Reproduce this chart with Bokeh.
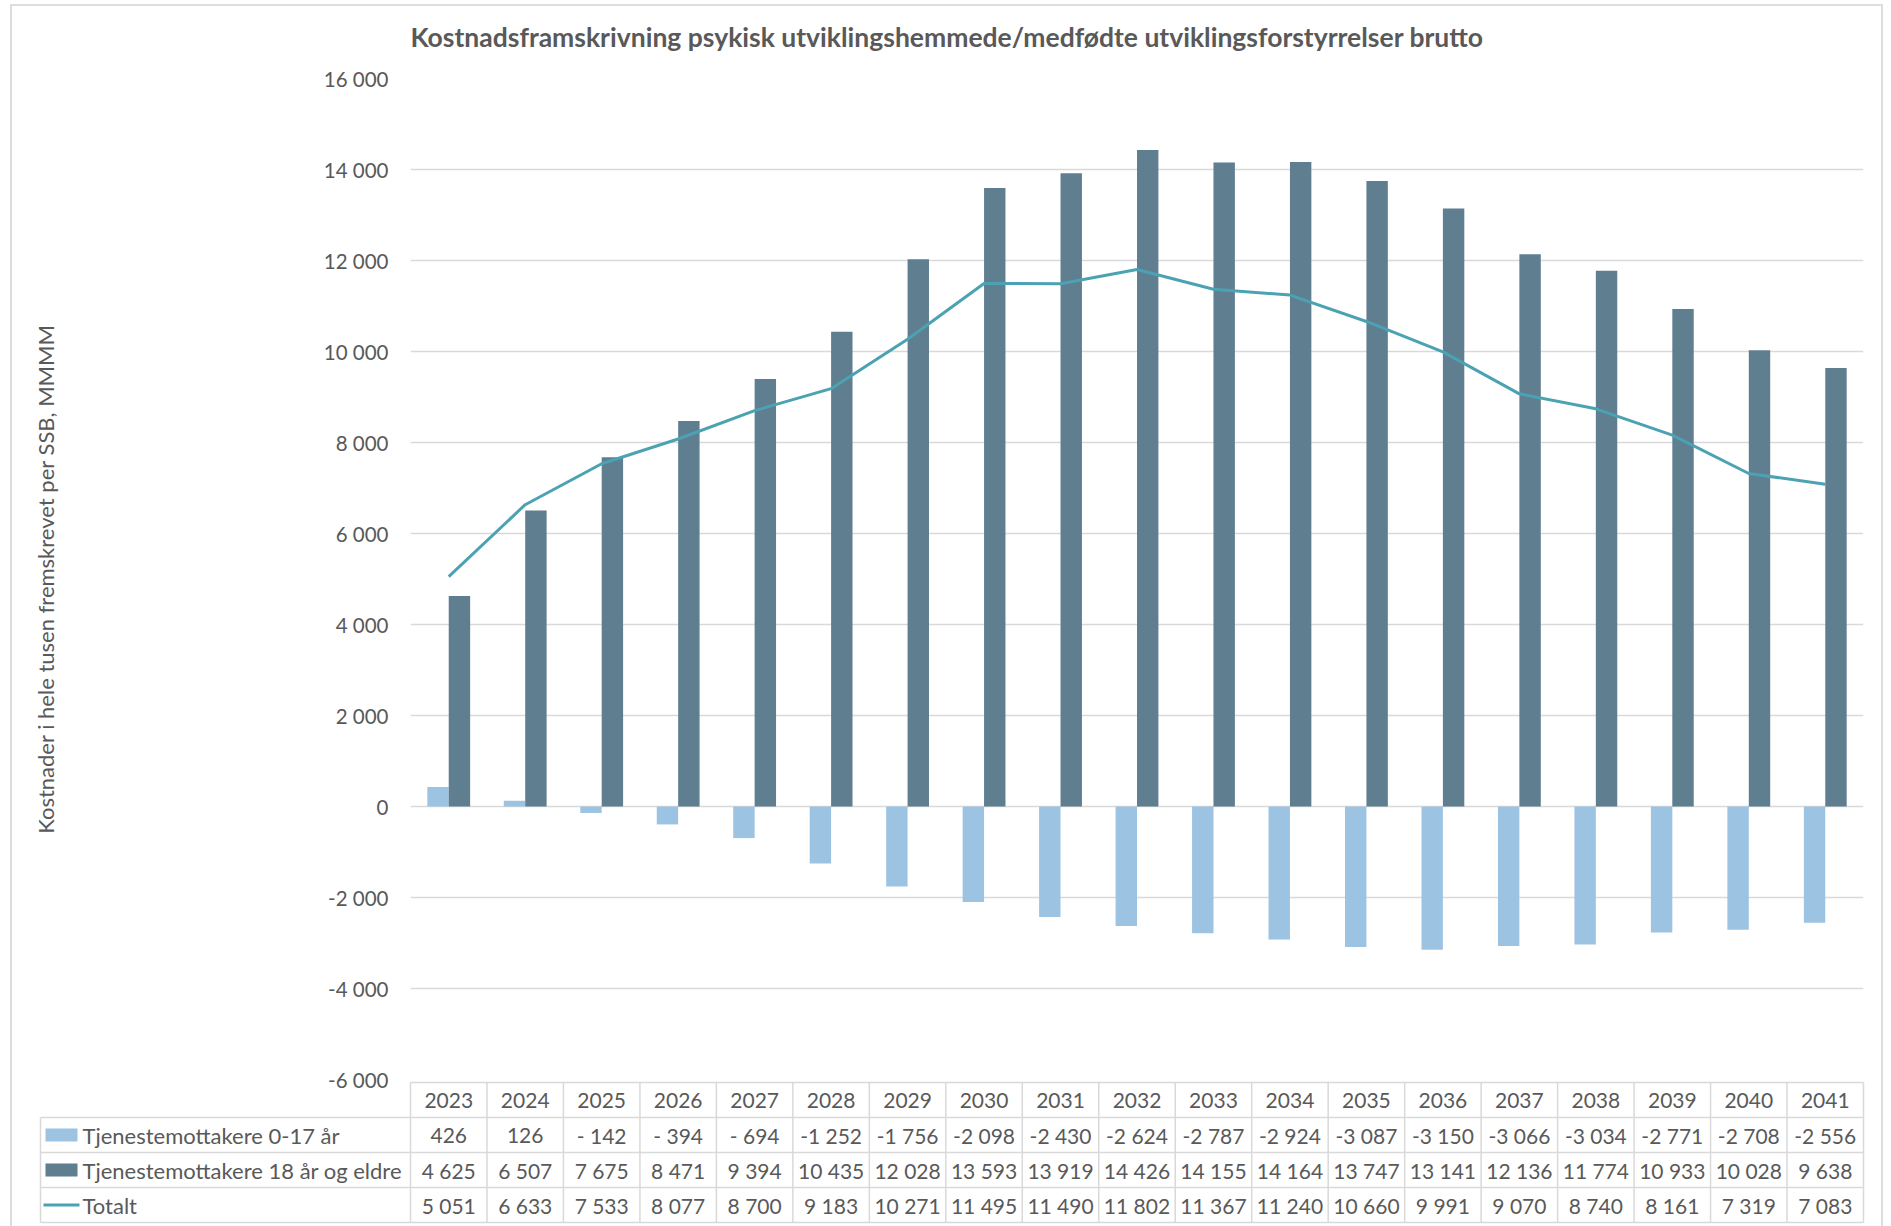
from bokeh.plotting import figure
from bokeh.models import Range1d, FixedTicker, ColumnDataSource
from bokeh.layouts import column
from bokeh.transform import dodge
from bokeh.core.properties import value
from bokeh.embed import file_html
from bokeh.resources import INLINE

# ---- data -----------------------------------------------------------------
TITLE = "Kostnadsframskrivning psykisk utviklingshemmede/medfødte utviklingsforstyrrelser brutto"
Y_LABEL = "Kostnader i hele tusen fremskrevet per SSB, MMMM"

YEARS = [2023, 2024, 2025, 2026, 2027, 2028, 2029, 2030, 2031, 2032,
         2033, 2034, 2035, 2036, 2037, 2038, 2039, 2040, 2041]
SERIES_NAMES = ["Tjenestemottakere 0-17 år",
                "Tjenestemottakere 18 år og eldre",
                "Totalt"]
CHILDREN = [426, 126, -142, -394, -694, -1252, -1756, -2098, -2430, -2624,
            -2787, -2924, -3087, -3150, -3066, -3034, -2771, -2708, -2556]
ADULTS = [4625, 6507, 7675, 8471, 9394, 10435, 12028, 13593, 13919, 14426,
          14155, 14164, 13747, 13141, 12136, 11774, 10933, 10028, 9638]
TOTAL = [5051, 6633, 7533, 8077, 8700, 9183, 10271, 11495, 11490, 11802,
         11367, 11240, 10660, 9991, 9070, 8740, 8161, 7319, 7083]

Y_TICKS = [-6000, -4000, -2000, 0, 2000, 4000, 6000, 8000, 10000, 12000, 14000, 16000]
Y_TICK_LABELS = ["-6 000", "-4 000", "-2 000", "0", "2 000", "4 000", "6 000",
                 "8 000", "10 000", "12 000", "14 000", "16 000"]

# ---- style ----------------------------------------------------------------
FONT = "Lato"
TEXT = "#595959"
GRID = "#d9d9d9"
LIGHT = "#9dc3e2"
DARK = "#5f7e90"
TEAL = "#4ba2b3"

W = 1869                  # inner width of the chart area
HEAD_H = 52               # strip holding the chart title
FRAME_LEFT = 398          # left edge of the plotting frame inside each figure
FRAME_RIGHT_PAD = 18
FRAME_TOP_PAD = 20
FRAME_H = 1001
BOTTOM_PAD = 15           # room for the lowest tick label, overlapped by the table
N = len(YEARS)
COL_PX = (W - FRAME_LEFT - FRAME_RIGHT_PAD) / N
X_START = YEARS[0] - 0.5
X_END = YEARS[-1] + 0.5
BAR_W = 0.28


def fmt(n):
    """Space-grouped number, Excel style ('- 142' for small negatives)."""
    s = f"{abs(n):,}".replace(",", " ")
    if n < 0:
        return ("- " if abs(n) < 1000 else "-") + s
    return s


def bare(fig):
    fig.outline_line_color = None
    fig.xgrid.visible = False
    fig.ygrid.visible = False
    return fig


src = ColumnDataSource(dict(year=YEARS, children=CHILDREN, adults=ADULTS, total=TOTAL))

# ---- title strip -------------------------------------------------------------
head = bare(figure(width=W, height=HEAD_H, title=None,
                   x_range=Range1d(0, W), y_range=Range1d(HEAD_H, 0),
                   output_backend="svg", toolbar_location=None,
                   x_axis_location=None, y_axis_location=None,
                   min_border_left=0, min_border_right=0,
                   min_border_top=0, min_border_bottom=0, frame_align=False))
head.text(x=[W / 2], y=[30], text=[TITLE], text_font=value(FONT),
          text_font_size="26.5px", text_font_style="bold", text_color=TEXT,
          text_align="center", text_baseline="middle")

# ---- chart ----------------------------------------------------------------
p = figure(width=W, height=FRAME_TOP_PAD + FRAME_H + BOTTOM_PAD, title=None,
           x_range=Range1d(X_START, X_END), y_range=Range1d(Y_TICKS[0], Y_TICKS[-1]),
           output_backend="svg", toolbar_location=None, x_axis_location=None,
           min_border_left=FRAME_LEFT, min_border_right=FRAME_RIGHT_PAD,
           min_border_top=FRAME_TOP_PAD, min_border_bottom=BOTTOM_PAD, frame_align=False)
p.outline_line_color = None
p.background_fill_color = "white"
p.border_fill_color = "white"

p.xgrid.visible = False
p.ygrid.ticker = FixedTicker(ticks=Y_TICKS)
p.ygrid.grid_line_color = GRID
p.ygrid.grid_line_width = 1.5

ax = p.yaxis[0]
ax.ticker = FixedTicker(ticks=Y_TICKS)
ax.major_label_overrides = dict(zip(Y_TICKS, Y_TICK_LABELS))
ax.axis_line_color = None
ax.major_tick_line_color = None
ax.minor_tick_line_color = None
ax.major_tick_out = 0
ax.major_label_standoff = 22
ax.major_label_text_font = FONT
ax.major_label_text_font_size = "20.5px"
ax.major_label_text_color = TEXT
ax.axis_label = Y_LABEL
ax.axis_label_text_font = FONT
ax.axis_label_text_font_size = "22px"
ax.axis_label_text_font_style = "normal"
ax.axis_label_text_color = TEXT
ax.axis_label_standoff = 262

p.vbar(x=dodge("year", -BAR_W / 2, range=p.x_range), top="children", width=BAR_W,
       source=src, fill_color=LIGHT, line_color=None)
p.vbar(x=dodge("year", BAR_W / 2, range=p.x_range), top="adults", width=BAR_W,
       source=src, fill_color=DARK, line_color=None)
p.line("year", "total", source=src, line_color=TEAL, line_width=3)

# ---- data table under the chart ---------------------------------------------
ROW_H = 35
TABLE_H = 146
TOP_PAD = 2 / ROW_H
LEGEND_COL_PX = 370
TABLE_LEFT = X_START - LEGEND_COL_PX / COL_PX

t = bare(figure(width=W, height=TABLE_H, title=None,
                x_range=Range1d(X_START - FRAME_LEFT / COL_PX, X_START + (W - FRAME_LEFT) / COL_PX),
                y_range=Range1d(TABLE_H / ROW_H - TOP_PAD, -TOP_PAD),
                output_backend="svg", toolbar_location=None,
                x_axis_location=None, y_axis_location=None,
                min_border_left=0, min_border_right=0, min_border_top=0, min_border_bottom=0,
                frame_align=False, styles={"margin-top": f"-{BOTTOM_PAD - 1}px"}))
t.background_fill_color = None
t.border_fill_color = None

# cell borders
hx0 = [X_START] + [TABLE_LEFT] * 4
hx1 = [X_END] * 5
hy = [0, 1, 2, 3, 4]
t.segment(x0=hx0, y0=hy, x1=hx1, y1=hy, line_color=GRID, line_width=1.5)
vx = [X_START + i for i in range(N + 1)] + [TABLE_LEFT]
vy0 = [0] * (N + 1) + [1]
vy1 = [4] * (N + 2)
t.segment(x0=vx, y0=vy0, x1=vx, y1=vy1, line_color=GRID, line_width=1.5)

# year header and values
rows = [[str(y) for y in YEARS],
        [fmt(v) for v in CHILDREN],
        [fmt(v) for v in ADULTS],
        [fmt(v) for v in TOTAL]]
cell_x, cell_y, cell_txt = [], [], []
for r, labels in enumerate(rows):
    for y, s in zip(YEARS, labels):
        cell_x.append(y)
        cell_y.append(r + 0.5)
        cell_txt.append(s)
t.text(x=cell_x, y=cell_y, text=cell_txt, text_font=value(FONT), text_font_size="21px",
       text_color=TEXT, text_align="center", text_baseline="middle")

# series names with their key swatches
t.text(x=[TABLE_LEFT] * 3, y=[1.5, 2.5, 3.5], text=SERIES_NAMES, x_offset=42,
       text_font=value(FONT), text_font_size="22px", text_color=TEXT,
       text_align="left", text_baseline="middle")
sw_x = TABLE_LEFT + 21 / COL_PX
t.rect(x=[sw_x, sw_x], y=[1.5, 2.5], width=32, height=13,
       width_units="screen", height_units="screen",
       fill_color=[LIGHT, DARK], line_color=None)
t.segment(x0=[TABLE_LEFT + 3 / COL_PX], y0=[3.5], x1=[TABLE_LEFT + 39 / COL_PX], y1=[3.5],
          line_color=TEAL, line_width=3)

layout = column(head, p, t, spacing=0,
                styles={"margin-left": "10px", "margin-top": "4px",
                        "border-left": "2px solid #dddddd",
                        "border-top": "2px solid #dddddd",
                        "border-right": "2px solid #dddddd"})

open("out.html", "w").write(file_html(layout, INLINE))
